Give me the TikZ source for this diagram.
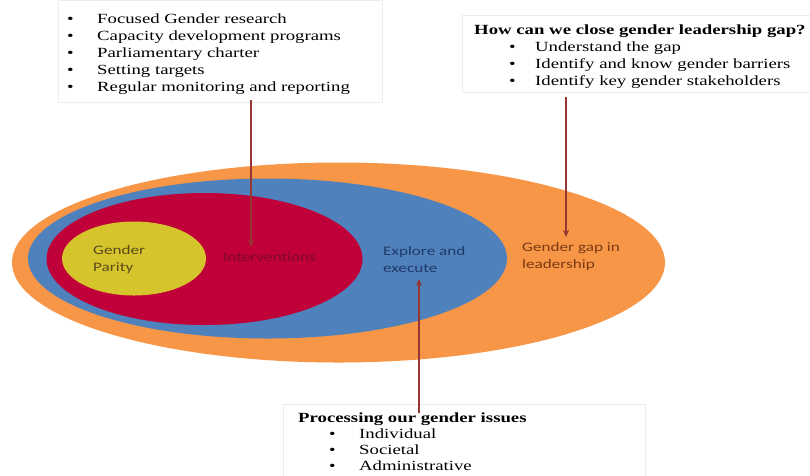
\documentclass[tikz,border=0pt]{standalone}
\usepackage{fontspec}
\setmainfont{Liberation Serif}
\newfontfamily\boxfont[FakeStretch=1.34]{Liberation Serif}
\newfontfamily\ellfont[FakeStretch=1.32]{Carlito}
\usetikzlibrary{shapes.geometric,arrows.meta}
\definecolor{cOrange}{HTML}{F79646}
\definecolor{cBlue}{HTML}{4F81BD}
\definecolor{cRed}{HTML}{C00038}
\definecolor{cYellow}{HTML}{D6C42C}
\definecolor{cArrow}{HTML}{963634}
\definecolor{tParity}{HTML}{5A4A1C}
\definecolor{tInterv}{HTML}{7E0A2A}
\definecolor{tExplore}{HTML}{1F3A68}
\definecolor{tGap}{HTML}{7A3A14}
\begin{document}
\begin{tikzpicture}[x=1pt,y=-1pt,
  ell/.style={ellipse,inner sep=0pt,outer sep=0pt,draw=none},
  txtbox/.style={rectangle,draw=black!7,line width=0.4pt,fill=white,inner sep=0pt,anchor=north west},
  boxtext/.style={anchor=base west,inner sep=0pt,font=\boxfont\fontsize{14}{17}\selectfont},
  elltext/.style={inner sep=0pt,align=left,font=\ellfont\fontsize{13}{17}\selectfont},
  link/.style={draw=cArrow,line width=1.8pt,-{Stealth[length=7pt,width=6pt]}}]
\useasboundingbox (0,0) rectangle (810,475);
\fill[white] (0,0) rectangle (810,475);
% ellipses
\node[ell,fill=cOrange,minimum width=653pt,minimum height=200pt] (gap) at (338.5,262.5) {};
\node[ell,fill=cBlue,minimum width=479pt,minimum height=160pt] (explore) at (267.5,258.5) {};
\node[ell,fill=cRed,minimum width=316pt,minimum height=132pt] (interv) at (204.5,259) {};
\node[ell,fill=cYellow,minimum width=144pt,minimum height=74pt] (parity) at (134,258.5) {};
% ellipse labels
\node[elltext,text=tParity,anchor=west] (tparity) at (93,259.5) {Gender\\Parity};
\node[elltext,text=tInterv,anchor=west] (tinterv) at (223,257) {Interventions};
\node[elltext,text=tExplore,anchor=west] (texplore) at (383,259.5) {Explore and\\execute};
\node[elltext,text=tGap,anchor=west] (tgap) at (522,257) {Gender gap in\\leadership};
% text boxes
\node[txtbox,minimum width=324pt,minimum height=102pt] (tlbox) at (58,0) {};
\node[txtbox,minimum width=350pt,minimum height=77pt] (trbox) at (462,15) {};
\node[txtbox,minimum width=362pt,minimum height=75pt] (bbox) at (283,404) {};
\node[boxtext] (tltext) at (67,23) {\begin{tabular}[t]{@{}l@{}}
\makebox[30pt][l]{•}Focused Gender research\\
\makebox[30pt][l]{•}Capacity development programs\\
\makebox[30pt][l]{•}Parliamentary charter\\
\makebox[30pt][l]{•}Setting targets\\
\makebox[30pt][l]{•}Regular monitoring and reporting
\end{tabular}};
\node[boxtext] (trtext) at (474,34) {\begin{tabular}[t]{@{}l@{}}
\textbf{How can we close gender leadership gap?}\\
\hspace{35pt}\makebox[26pt][l]{•}Understand the gap\\
\hspace{35pt}\makebox[26pt][l]{•}Identify and know gender barriers\\
\hspace{35pt}\makebox[26pt][l]{•}Identify key gender stakeholders
\end{tabular}};
\node[boxtext,font=\boxfont\fontsize{14}{16.3}\selectfont] (btext) at (298,422) {\begin{tabular}[t]{@{}l@{}}
\textbf{Processing our gender issues}\\
\hspace{31pt}\makebox[30pt][l]{•}Individual\\
\hspace{31pt}\makebox[30pt][l]{•}Societal\\
\hspace{31pt}\makebox[30pt][l]{•}Administrative
\end{tabular}};
% connectors
\coordinate (a1s) at (251,100);
\coordinate (a1e) at (251,247);
\coordinate (a2s) at (566,97);
\coordinate (a2e) at (566,237);
\coordinate (a3s) at (419,413);
\coordinate (a3e) at (419,279);
\draw[link] (a1s) -- (a1e);
\draw[link] (a2s) -- (a2e);
\draw[link] (a3s) -- (a3e);
\end{tikzpicture}
\end{document}
